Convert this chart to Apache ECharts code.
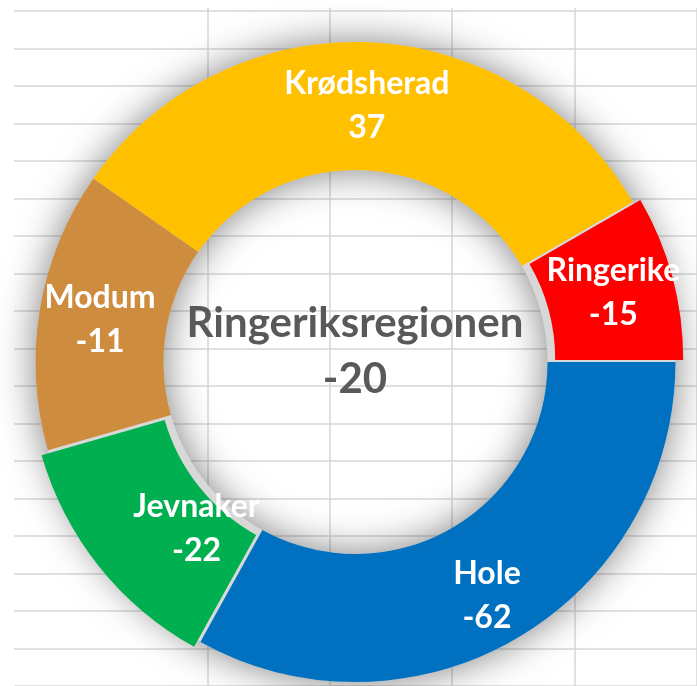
<!DOCTYPE html>
<html>
<head>
<meta charset="utf-8">
<script src="https://cdn.jsdelivr.net/npm/echarts@6/dist/echarts.min.js"></script>
<style>
  html, body { margin: 0; padding: 0; background: #fff; }
  #main { width: 697px; height: 686px; }
</style>
</head>
<body>
<div id="main"></div>
<script>
// kommuner, endring og hvor stor bit av ringen hver har (grader)
var kommuner = ['Ringerike', 'Hole', 'Jevnaker', 'Modum', 'Krødsherad'];
var endring = [-15, -62, -22, -11, 37];
var andel = [30, 119, 45, 51, 115];
var farger = ['#FF0000', '#0070C0', '#00B050', '#CD8C3E', '#FFC000'];
var utskilt = ['Ringerike', 'Jevnaker'];   // trukket litt ut av ringen
var regionNavn = 'Ringeriksregionen';
var regionEndring = -20;

// små justeringer av etikettene, slik Excel hadde flyttet dem
var etikettFlytt = { 'Hole': [0, 11], 'Jevnaker': [50, 0], 'Krødsherad': [0, 2] };

var data = kommuner.map(function (k, i) {
    return {
        name: k,
        value: andel[i],
        selected: utskilt.indexOf(k) >= 0,
        itemStyle: { color: farger[i] }
    };
});

var chart = echarts.init(document.getElementById('main'));
chart.setOption({
    animation: false,
    title: {
        text: regionNavn + '\n' + regionEndring,
        left: 350,
        top: 290,
        textAlign: 'center',
        textStyle: {
            fontFamily: 'Lato',
            fontWeight: 'bold',
            fontSize: 42,
            lineHeight: 56,
            color: '#595959'
        }
    },
    // rutenettet fra regnearket bak
    grid: [
        { left: 14, right: 0, top: 11, height: 679.5 },
        { left: 207.3, top: 8, width: 490, bottom: 0 }
    ],
    xAxis: [
        { gridIndex: 0, type: 'value', show: false, min: 0, max: 1 },
        {
            gridIndex: 1, type: 'value', min: 0, max: 4, interval: 1,
            axisLine: { show: false }, axisTick: { show: false }, axisLabel: { show: false },
            splitLine: { show: true, lineStyle: { color: '#d6d6d6', width: 1.5 } }
        }
    ],
    yAxis: [
        {
            gridIndex: 0, type: 'value', min: 0, max: 18, interval: 1, inverse: true,
            axisLine: { show: false }, axisTick: { show: false }, axisLabel: { show: false },
            splitLine: { show: true, lineStyle: { color: '#d6d6d6', width: 1.5 } }
        },
        { gridIndex: 1, type: 'value', show: false, min: 0, max: 1 }
    ],
    series: [
        {
            // skygge bak ringen
            type: 'pie',
            silent: true,
            center: [355.5, 362],
            radius: [192, 320],
            label: { show: false },
            labelLine: { show: false },
            itemStyle: {
                color: '#d8d8d8',
                shadowBlur: 38,
                shadowColor: 'rgba(0,0,0,0.5)'
            },
            data: [{ value: 1, name: 'bakgrunn' }]
        },
        {
            name: regionNavn,
            type: 'pie',
            center: [355.5, 362],
            radius: [192, 320],
            startAngle: 30,
            clockwise: true,
            selectedMode: 'multiple',
            selectedOffset: 8,
            emphasis: { scale: false },
            label: {
                show: true,
                position: 'inside',
                color: '#fff',
                fontFamily: 'Lato',
                fontWeight: 'bold',
                fontSize: 32,
                lineHeight: 44,
                formatter: function (p) {
                    return p.name + '\n' + endring[p.dataIndex];
                }
            },
            labelLayout: function (p) {
                var f = etikettFlytt[kommuner[p.dataIndex]];
                return f ? { dx: f[0], dy: f[1] } : {};
            },
            labelLine: { show: false },
            data: data
        }
    ]
});
</script>
</body>
</html>
